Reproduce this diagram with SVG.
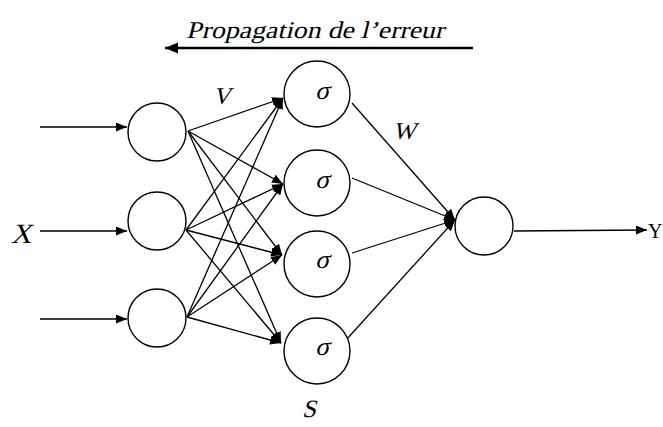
<svg xmlns="http://www.w3.org/2000/svg" width="663" height="427" viewBox="0 0 663 427">
<style>
.n{fill:#fff;stroke:#000;stroke-width:1.4}
.c line{stroke:#000;stroke-width:1.3}
.t{font-family:"Liberation Serif",serif;fill:#000}
</style>
<defs>
<marker id="a" markerUnits="userSpaceOnUse" markerWidth="12" markerHeight="10" refX="11" refY="4.5" orient="auto"><path d="M0,0 L11,4.5 L0,9 z" fill="#000"/></marker>
<marker id="b" markerUnits="userSpaceOnUse" markerWidth="14" markerHeight="12" refX="13" refY="5.5" orient="auto"><path d="M0,0 L13,5.5 L0,11 z" fill="#000"/></marker>
</defs>
<rect width="663" height="427" fill="#fff"/>
<g class="c" id="connectors">
<line x1="473" y1="48" x2="165" y2="48" style="stroke-width:2.6" marker-end="url(#b)"/>
<line x1="40" y1="127" x2="127" y2="127" marker-end="url(#a)"/>
<line x1="40" y1="231" x2="127" y2="231" marker-end="url(#a)"/>
<line x1="40" y1="319" x2="127" y2="319" marker-end="url(#a)"/>
<line x1="188" y1="131" x2="283" y2="98" marker-end="url(#a)"/>
<line x1="188" y1="131" x2="283" y2="184" marker-end="url(#a)"/>
<line x1="188" y1="131" x2="282" y2="255" marker-end="url(#a)"/>
<line x1="188" y1="131" x2="281" y2="343" marker-end="url(#a)"/>
<line x1="186" y1="230" x2="283" y2="98" marker-end="url(#a)"/>
<line x1="186" y1="230" x2="283" y2="184" marker-end="url(#a)"/>
<line x1="186" y1="230" x2="282" y2="255" marker-end="url(#a)"/>
<line x1="186" y1="230" x2="281" y2="343" marker-end="url(#a)"/>
<line x1="187" y1="317" x2="283" y2="98" marker-end="url(#a)"/>
<line x1="187" y1="317" x2="283" y2="184" marker-end="url(#a)"/>
<line x1="187" y1="317" x2="282" y2="255" marker-end="url(#a)"/>
<line x1="187" y1="317" x2="281" y2="343" marker-end="url(#a)"/>
<line x1="352" y1="103" x2="455" y2="220" marker-end="url(#a)"/>
<line x1="352" y1="178" x2="455" y2="220" marker-end="url(#a)"/>
<line x1="352" y1="253" x2="455" y2="220" marker-end="url(#a)"/>
<line x1="346" y1="340" x2="455" y2="220" marker-end="url(#a)"/>
<line x1="514" y1="231" x2="647" y2="230" marker-end="url(#a)"/>
</g>
<g id="in1"><circle class="n" cx="157" cy="132" r="29"/></g>
<g id="in2"><circle class="n" cx="157" cy="221" r="29"/></g>
<g id="in3"><circle class="n" cx="157" cy="318" r="29"/></g>
<g id="h1"><circle class="n" cx="317" cy="94" r="33"/><text class="t" transform="translate(322,99) skewX(-14)" font-size="26" text-anchor="middle">σ</text></g>
<g id="h2"><circle class="n" cx="317" cy="183" r="33"/><text class="t" transform="translate(322,188) skewX(-14)" font-size="26" text-anchor="middle">σ</text></g>
<g id="h3"><circle class="n" cx="317" cy="264" r="33"/><text class="t" transform="translate(322,268) skewX(-14)" font-size="26" text-anchor="middle">σ</text></g>
<g id="h4"><circle class="n" cx="317" cy="351" r="33"/><text class="t" transform="translate(322,355) skewX(-14)" font-size="26" text-anchor="middle">σ</text></g>
<g id="out"><circle class="n" cx="484" cy="226" r="29"/></g>
<g id="labels">
<text class="t" transform="translate(186,38) skewX(-14)" font-size="24" textLength="258" lengthAdjust="spacingAndGlyphs">Propagation de l’erreur</text>
<text class="t" transform="translate(213,104) skewX(-14)" font-size="24">V</text>
<text class="t" transform="translate(393,139) skewX(-14)" font-size="24">W</text>
<text class="t" transform="translate(302,417) skewX(-14)" font-size="25">S</text>
<text class="t" transform="translate(11,243) skewX(-14)" font-size="28">X</text>
<text class="t" x="648" y="238" font-size="20">Y</text>
</g>
</svg>
